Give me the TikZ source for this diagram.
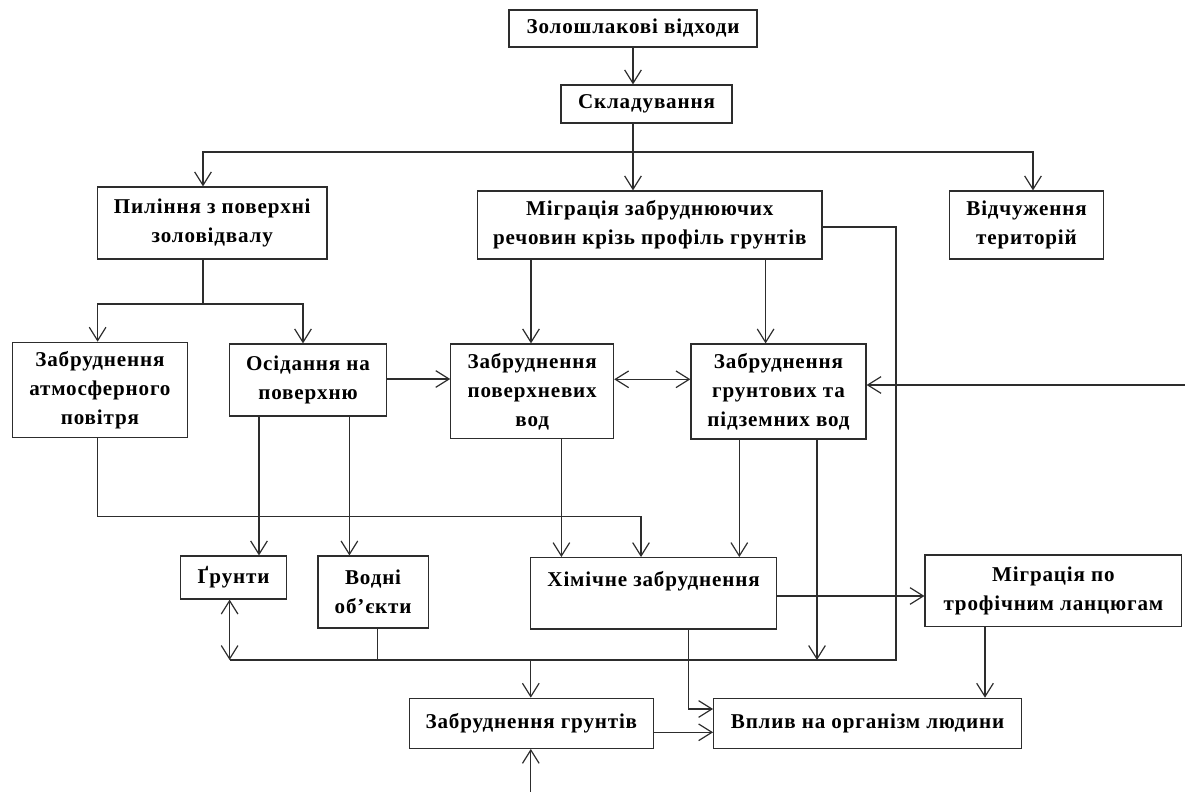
\documentclass[tikz,border=0pt]{standalone}
\usepackage{fontspec}
\setmainfont{Liberation Serif}[LetterSpace=4.0]
\usetikzlibrary{arrows.meta,calc}
\definecolor{lncol}{RGB}{45,45,45}
\newcommand{\boxfont}{\fontsize{15.8}{21.75}\selectfont\bfseries}
\begin{document}
\begin{tikzpicture}[x=0.75pt,y=-0.75pt,
  box/.style={draw=lncol,line width=0.9pt,inner sep=0pt,align=center,font=\boxfont,text=black},
  wire/.style={draw=lncol,line width=0.9pt},
  arr/.style={wire,-{Straight Barb[length=10pt,width=12.5pt]}},
  arrb/.style={wire,{Straight Barb[length=10pt,width=12.5pt]}-{Straight Barb[length=10pt,width=12.5pt]}}]
\useasboundingbox (0,0) rectangle (1185,792);
% boxes
\node[box,minimum width=186pt,minimum height=27.75pt] (A) at (633,28.5) {Золошлакові відходи};
\node[box,minimum width=128.25pt,minimum height=28.5pt] (B) at (646.5,104) {Складування};
\node[box,minimum width=172pt,minimum height=54pt] (P) at (212.3,223) {Пиління з поверхні\\золовідвалу};
\node[box,minimum width=258.3pt,minimum height=51pt] (M) at (649.8,225) {Міграція забруднюючих\\речовин крізь профіль грунтів};
\node[box,minimum width=115.5pt,minimum height=51pt] (V) at (1026.5,225) {Відчуження\\територій};
\node[box,minimum width=131.5pt,minimum height=71.25pt] (Atm) at (99.9,389.8) {Забруднення\\атмосферного\\повітря};
\node[box,minimum width=117.75pt,minimum height=54pt] (Os) at (308,380) {Осідання на\\поверхню};
\node[box,minimum width=122.1pt,minimum height=71pt] (Pov) at (532.2,391.3) {Забруднення\\поверхневих\\вод};
\node[box,minimum width=131.25pt,minimum height=71.25pt] (Grw) at (778.5,391.5) {Забруднення\\грунтових та\\підземних вод};
\node[box,minimum width=79.5pt,minimum height=32.25pt] (Gr) at (233.6,577.5) {Ґрунти};
\node[box,minimum width=82.65pt,minimum height=54pt] (Vod) at (373.1,592) {Водні\\об’єкти};
\node[box,minimum width=184.3pt,minimum height=53.5pt] (Him) at (653.6,593.3) {Хімічне забруднення\\\mbox{}};
\node[box,minimum width=192.5pt,minimum height=53.8pt] (Tro) at (1053.4,590.8) {Міграція по\\трофічним ланцюгам};
\node[box,minimum width=182.85pt,minimum height=37.5pt] (ZG) at (531.4,723.3) {Забруднення грунтів};
\node[box,minimum width=230.9pt,minimum height=37.5pt] (Vpl) at (867.6,723.3) {Вплив на організм людини};
% helper coordinates
\coordinate (xP) at (203,0);
\coordinate (xAtm) at (97.6,0);
\coordinate (xOs) at (303,0);
\coordinate (xV) at (1033,0);
\coordinate (br) at (633,152);
\coordinate (yc) at (203,304);
\coordinate (xPovIn) at (531,0);
\coordinate (xGrwIn) at (765.6,0);
\coordinate (yMR) at (0,227);
\coordinate (xR) at (896,0);
\coordinate (ybus) at (0,660);
\coordinate (xGr) at (229.6,0);
\coordinate (xVod) at (377.7,0);
\coordinate (xZG) at (530.8,0);
\coordinate (xGrwDn1) at (739.3,0);
\coordinate (xGrwDn2) at (817,0);
\coordinate (yOP) at (0,379);
\coordinate (yPG) at (0,379.3);
\coordinate (rin) at (1185,385);
\coordinate (ah) at (641,516.7);
\coordinate (xOs1) at (259,0);
\coordinate (xOs2) at (349.4,0);
\coordinate (xPovDn) at (561.4,0);
\coordinate (yHT) at (0,596);
\coordinate (xTro) at (985,0);
\coordinate (xHimDn) at (688.6,0);
\coordinate (yHV) at (0,709);
\coordinate (yZV) at (0,732.3);
\coordinate (bot) at (530.8,792);
% connectors
\draw[arr] (A.south) -- (A.south |- B.north);
\draw[arr] (A.south |- B.south) -- (A.south |- M.north);
\draw[arrb] (P.north -| xP) |- (br) -| (V.north -| xV);
\draw[wire] (P.south -| xP) -- (yc);
\draw[arrb] (Atm.north -| xAtm) |- (yc) -| (Os.north -| xOs);
\draw[arr] (M.south -| xPovIn) -- (Pov.north -| xPovIn);
\draw[arr] (M.south -| xGrwIn) -- (Grw.north -| xGrwIn);
\draw[wire] (M.east |- yMR) -| (xR |- ybus) -- (xGr |- ybus);
\draw[arrb] (Gr.south -| xGr) -- (xGr |- ybus);
\draw[wire] (Vod.south -| xVod) -- (xVod |- ybus);
\draw[arr] (xZG |- ybus) -- (ZG.north -| xZG);
\draw[arr] (Grw.south -| xGrwDn2) -- (xGrwDn2 |- ybus);
\draw[arr] (Os.east |- yOP) -- (Pov.west |- yOP);
\draw[arrb] (Pov.east |- yPG) -- (Grw.west |- yPG);
\draw[arr] (rin) -- (Grw.east |- rin);
\draw[arr] (Atm.south -| xAtm) |- (ah) -- (Him.north -| ah);
\draw[arr] (Os.south -| xOs1) -- (Gr.north -| xOs1);
\draw[arr] (Os.south -| xOs2) -- (Vod.north -| xOs2);
\draw[arr] (Pov.south -| xPovDn) -- (Him.north -| xPovDn);
\draw[arr] (Grw.south -| xGrwDn1) -- (Him.north -| xGrwDn1);
\draw[arr] (Him.east |- yHT) -- (Tro.west |- yHT);
\draw[arr] (Tro.south -| xTro) -- (Vpl.north -| xTro);
\draw[arr] (Him.south -| xHimDn) |- (Vpl.west |- yHV);
\draw[arr] (ZG.east |- yZV) -- (Vpl.west |- yZV);
\draw[arr] (bot) -- (ZG.south -| bot);
\end{tikzpicture}
\end{document}
